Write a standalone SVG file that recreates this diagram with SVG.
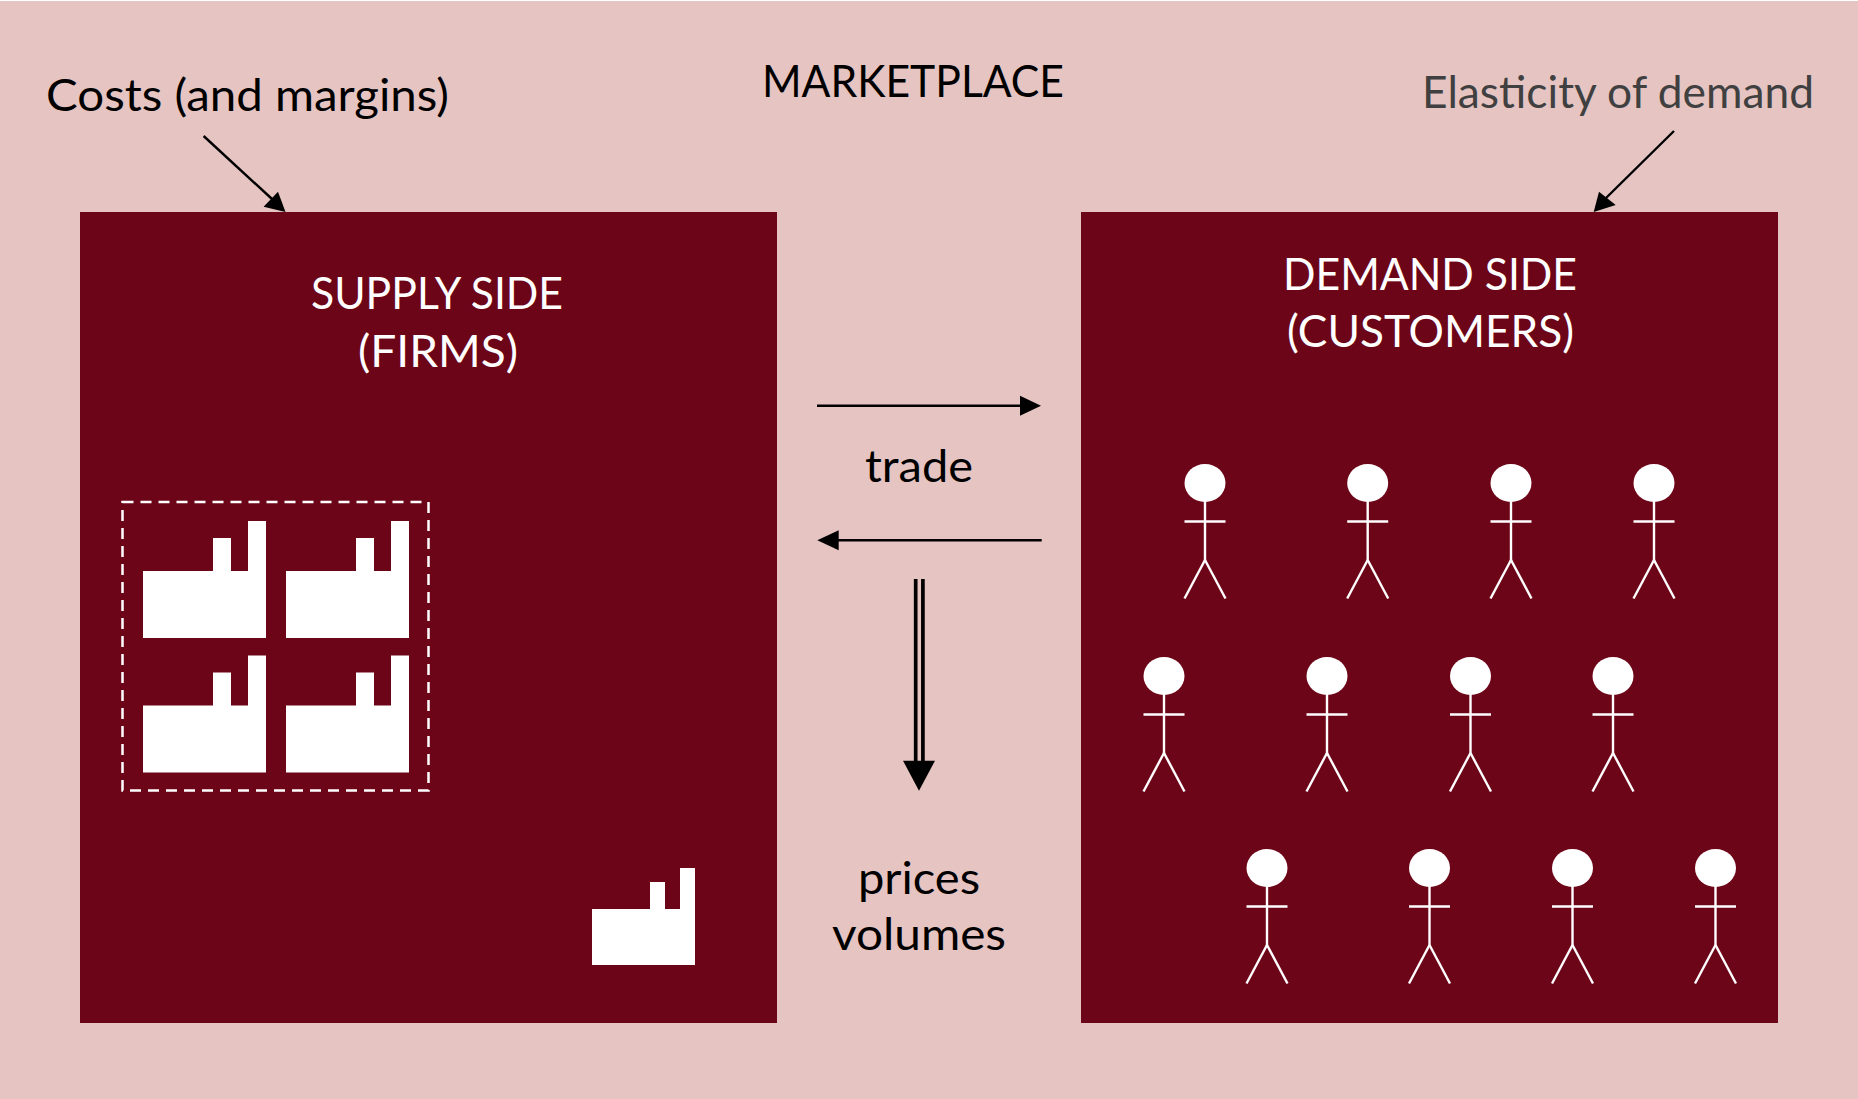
<svg xmlns="http://www.w3.org/2000/svg" xmlns:xlink="http://www.w3.org/1999/xlink" width="1858" height="1099" viewBox="0 0 1858 1099">
<style>
text{font-family:"Lato","Liberation Sans",sans-serif;font-size:44px}
.k{fill:#000}.w{fill:#fff}.g{fill:#404040}.m{text-anchor:middle}
.panel{fill:#6d0518}
.fac{fill:#fff}
.p line{stroke:#fff;stroke-width:2.4}.p ellipse{fill:#fff}
.c line{stroke:#000;stroke-width:2.4}.c polygon{fill:#000}
</style>
<defs>
<path id="factory" d="M0 117V50H70V17H88V50H105V0H123V117Z"/>
<g id="person" class="p"><ellipse cx="0" cy="0" rx="20.5" ry="19"/><line x1="0" y1="18" x2="0" y2="78"/><line x1="-20.5" y1="38.5" x2="20.5" y2="38.5"/><line x1="0" y1="77" x2="-20.5" y2="115.5"/><line x1="0" y1="77" x2="20.5" y2="115.5"/></g>
</defs>
<rect width="1858" height="1099" fill="#fff"/>
<rect y="1" width="1858" height="1098" fill="#e6c4c2"/>
<g id="marketplace"><text class="k" x="762" y="97" textLength="302" lengthAdjust="spacingAndGlyphs">MARKETPLACE</text></g>
<g id="costs"><text class="k" x="46" y="111" textLength="403" lengthAdjust="spacingAndGlyphs">Costs (and margins)</text></g>
<g id="elasticity"><text class="g" x="1422" y="108" textLength="392" lengthAdjust="spacingAndGlyphs">Elasticity of demand</text></g>
<g id="supply"><rect class="panel" x="80" y="212" width="697" height="811"/>
<text class="w" x="311" y="309" textLength="252" lengthAdjust="spacingAndGlyphs">SUPPLY SIDE</text><text class="w" x="358" y="366.500" textLength="160" lengthAdjust="spacingAndGlyphs">(FIRMS)</text>
<rect x="122.500" y="502" width="306" height="288.500" fill="none" stroke="#fff" stroke-width="2.500" stroke-dasharray="11 7"/>
<use class="fac" xlink:href="#factory" href="#factory" x="143" y="521"/>
<use class="fac" xlink:href="#factory" href="#factory" x="286" y="521"/>
<use class="fac" xlink:href="#factory" href="#factory" x="143" y="655.500"/>
<use class="fac" xlink:href="#factory" href="#factory" x="286" y="655.500"/>
<path class="fac" d="M592 965V909H650V882H665V909H680V868H695V965Z"/></g>
<g id="demand"><rect class="panel" x="1081" y="212" width="697" height="811"/>
<text class="w" x="1283" y="290" textLength="294" lengthAdjust="spacingAndGlyphs">DEMAND SIDE</text><text class="w" x="1287" y="346.500" textLength="287" lengthAdjust="spacingAndGlyphs">(CUSTOMERS)</text>
<use href="#person" x="1205" y="483"/><use href="#person" x="1367.700" y="483"/><use href="#person" x="1511" y="483"/><use href="#person" x="1654" y="483"/>
<use href="#person" x="1164" y="676"/><use href="#person" x="1327" y="676"/><use href="#person" x="1470.500" y="676"/><use href="#person" x="1613" y="676"/>
<use href="#person" x="1267" y="868"/><use href="#person" x="1429.500" y="868"/><use href="#person" x="1572.500" y="868"/><use href="#person" x="1715.500" y="868"/></g>
<g id="labels"><text class="k" x="865" y="482" textLength="108" lengthAdjust="spacingAndGlyphs">trade</text><text class="k" x="858" y="894" textLength="122" lengthAdjust="spacingAndGlyphs">prices</text><text class="k" x="832" y="950" textLength="174" lengthAdjust="spacingAndGlyphs">volumes</text></g>
<g id="connectors" class="c">
<line x1="203.600" y1="136" x2="272" y2="199"/><polygon points="285.500,212 278,191.700 263.600,206.700"/>
<line x1="1674" y1="131" x2="1606" y2="198"/><polygon points="1593.700,212 1599,191.700 1615.700,205"/>
<line x1="817" y1="405.700" x2="1022" y2="405.700"/><polygon points="1041,405.700 1020,395.700 1020,415.700"/>
<line x1="1041.700" y1="540.300" x2="836" y2="540.300"/><polygon points="817.300,540.300 838.700,530.300 838.700,550.300"/>
<line x1="915.700" y1="579" x2="915.700" y2="762" style="stroke-width:3.700"/><line x1="922.900" y1="579" x2="922.900" y2="762" style="stroke-width:3.700"/>
<polygon points="903,760.700 935,760.700 919,790.700"/>
</g>
</svg>
